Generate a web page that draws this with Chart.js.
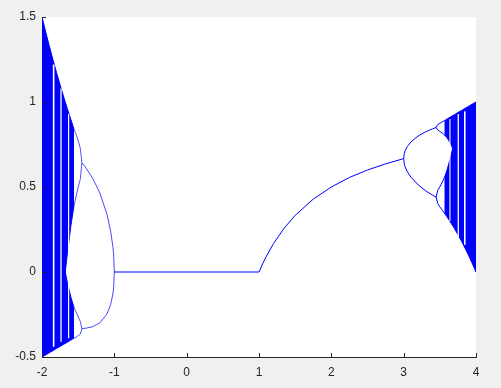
<!DOCTYPE html>
<html>
<head>
<meta charset="utf-8">
<script src="https://cdn.jsdelivr.net/npm/chart.js@4/dist/chart.umd.min.js"></script>
<style>
  body { margin: 0; background: #f0f0f0; }
  canvas { display: block; }
</style>
</head>
<body>
<canvas id="bif" width="501" height="388"></canvas>
<script>
// ---- values ---- //
const xTicks = [-2, -1, 0, 1, 2, 3, 4];
const yTicks = [-0.5, 0, 0.5, 1, 1.5];

// stable fixed point
const fixedR = [-1, 1, 1.05, 1.1, 1.2, 1.35, 1.5, 1.75, 2, 2.25, 2.5, 2.75, 3];
const fixedY = [0, 0, 0.048, 0.091, 0.167, 0.259, 0.333, 0.429, 0.5, 0.556, 0.6, 0.636, 0.667];

// period 2, negative side
const p2NegR = [-1, -1.01, -1.02, -1.05, -1.1, -1.2, -1.3, -1.4, -1.449];
const p2NegUp = [0, 0.104, 0.149, 0.238, 0.337, 0.465, 0.552, 0.617, 0.643];
const p2NegLow = [0, -0.094, -0.129, -0.19, -0.246, -0.299, -0.322, -0.331, -0.333];

// period 2, positive side
const p2PosR = [3, 3.01, 3.02, 3.05, 3.1, 3.2, 3.3, 3.4, 3.449];
const p2PosUp = [0.667, 0.699, 0.713, 0.738, 0.765, 0.8, 0.824, 0.842, 0.85];
const p2PosLow = [0.667, 0.633, 0.619, 0.59, 0.558, 0.513, 0.479, 0.452, 0.44];

// period 4 branches
const p4NegR = [-1.449, -1.47, -1.5, -1.54, -1.565];
const p4NegA = [0.643, 0.727, 0.774, 0.822, 0.85];
const p4NegB = [0.643, 0.547, 0.498, 0.423, 0.37];
const p4NegC = [-0.333, -0.292, -0.263, -0.225, -0.198];
const p4NegD = [-0.333, -0.365, -0.375, -0.386, -0.391];
const p4PosR = [3.449, 3.47, 3.5, 3.54, 3.565];
const p4PosA = [0.85, 0.867, 0.875, 0.885, 0.891];
const p4PosB = [0.85, 0.836, 0.827, 0.815, 0.806];
const p4PosC = [0.44, 0.48, 0.501, 0.534, 0.557];
const p4PosD = [0.44, 0.404, 0.383, 0.36, 0.346];

// chaotic bands, negative side
const chNegR = [-2, -1.95, -1.9, -1.85, -1.8, -1.75, -1.7, -1.678, -1.65, -1.6, -1.565];
const chNegUpTop = [1.5, 1.414, 1.331, 1.251, 1.175, 1.101, 1.03, 0.999, 0.961, 0.896, 0.85];
const chNegUpBot = [-0.1, -0.1, -0.1, -0.1, -0.1, -0.1, -0.1, 0, 0.107, 0.274, 0.37];
const chNegLowTop = [0.1, 0.1, 0.1, 0.1, 0.1, 0.1, 0.1, 0, -0.061, -0.149, -0.198];
const chNegLowBot = [-0.5, -0.488, -0.475, -0.463, -0.45, -0.438, -0.425, -0.42, -0.413, -0.4, -0.391];

// chaotic bands, positive side
const chPosR = [3.565, 3.6, 3.65, 3.678, 3.7, 3.75, 3.8, 3.85, 3.9, 3.95, 4];
const chPosUpTop = [0.891, 0.9, 0.913, 0.92, 0.925, 0.938, 0.95, 0.963, 0.975, 0.988, 1];
const chPosUpBot = [0.806, 0.789, 0.754, 0.728, 0.5, 0.5, 0.5, 0.5, 0.5, 0.5, 0.5];
const chPosLowTop = [0.557, 0.6, 0.678, 0.728, 0.6, 0.6, 0.6, 0.6, 0.6, 0.6, 0.6];
const chPosLowBot = [0.346, 0.324, 0.291, 0.272, 0.257, 0.22, 0.181, 0.139, 0.095, 0.049, 0];

// periodic windows (white stripes): position, low end, high end
const winR = [-1.839, -1.737, -1.632, 3.64, 3.755, 3.845];
const winLow = [-0.44, -0.41, -0.39, 0.3, 0.2, 0.16];
const winHigh = [1.22, 1.08, 0.93, 0.9, 0.93, 0.945];
const winWidth = [1.6, 1.3, 1.2, 1.1, 1.3, 1.6];

const BLUE = '#0000ff';
const pts = (xs, ys) => xs.map((x, i) => ({x: x, y: ys[i]}));

function curve(xs, ys, color) {
    return { data: pts(xs, ys), borderColor: color || BLUE, borderWidth: 1, fill: false, order: 1 };
}
// closed outline: along the top, then back along the bottom
function band(xs, top, bot) {
    const outline = pts(xs, top).concat(pts(xs, bot).reverse());
    return { data: outline, borderColor: BLUE, borderWidth: 1, backgroundColor: BLUE,
             fill: 'shape', order: 2 };
}

const datasets = [
    band(chNegR, chNegUpTop, chNegUpBot),
    band(chNegR, chNegLowTop, chNegLowBot),
    band(chPosR, chPosUpTop, chPosUpBot),
    band(chPosR, chPosLowTop, chPosLowBot),
    curve(fixedR, fixedY),
    curve(p2NegR, p2NegUp, 'rgba(40,40,255,0.85)'),
    curve(p2NegR, p2NegLow, 'rgba(40,40,255,0.85)'),
    curve(p2PosR, p2PosUp),
    curve(p2PosR, p2PosLow),
    curve(p4NegR, p4NegA, 'rgba(40,40,255,0.8)'),
    curve(p4NegR, p4NegB, 'rgba(40,40,255,0.8)'),
    curve(p4NegR, p4NegC, 'rgba(40,40,255,0.8)'),
    curve(p4NegR, p4NegD, 'rgba(40,40,255,0.8)'),
    curve(p4PosR, p4PosA),
    curve(p4PosR, p4PosB),
    curve(p4PosR, p4PosC),
    curve(p4PosR, p4PosD)
];
winR.forEach((r, i) => {
    datasets.push({
        data: [{x: r, y: winLow[i]}, {x: r, y: winHigh[i]}],
        borderColor: '#ffffff', borderWidth: winWidth[i], fill: false, order: 0
    });
});

// white plot area + inward tick marks
const axesLook = {
    id: 'axesLook',
    beforeDraw(chart) {
        const a = chart.chartArea, c = chart.ctx;
        c.save();
        c.fillStyle = '#ffffff';
        c.fillRect(a.left, a.top, a.right - a.left, a.bottom - a.top);
        c.restore();
    },
    afterDraw(chart) {
        const a = chart.chartArea, c = chart.ctx;
        const xs = chart.scales.x, ys = chart.scales.y;
        c.save();
        c.strokeStyle = '#262626';
        c.lineWidth = 1;
        c.beginPath();
        xTicks.forEach(v => {
            const px = Math.round(xs.getPixelForValue(v)) + 0.5;
            c.moveTo(px, a.bottom);
            c.lineTo(px, a.bottom - 4);
        });
        yTicks.forEach(v => {
            const py = Math.round(ys.getPixelForValue(v)) + 0.5;
            c.moveTo(a.left, py);
            c.lineTo(a.left + 4, py);
        });
        c.stroke();
        c.restore();
    }
};

const tickFont = { family: '"Liberation Sans", Arial, sans-serif', size: 12 };

new Chart(document.getElementById('bif'), {
    type: 'line',
    data: { datasets: datasets },
    options: {
        responsive: false,
        animation: false,
        layout: { padding: { top: 17, right: 25, left: 0, bottom: 0 } },
        plugins: { legend: { display: false }, tooltip: { enabled: false } },
        elements: { point: { radius: 0 }, line: { tension: 0 } },
        scales: {
            x: {
                type: 'linear', min: -2, max: 4,
                grid: { display: false, drawTicks: false },
                border: { display: true, color: '#262626', width: 1 },
                ticks: { color: '#262626', font: tickFont, padding: 8, maxRotation: 0,
                         callback: v => String(v) },
                afterBuildTicks(s) { s.ticks = xTicks.map(v => ({ value: v })); },
                afterFit(s) { s.height = 31; }
            },
            y: {
                type: 'linear', min: -0.5, max: 1.5,
                grid: { display: false, drawTicks: false },
                border: { display: true, color: '#262626', width: 1 },
                ticks: { color: '#262626', font: tickFont, padding: 6,
                         callback: v => String(v) },
                afterBuildTicks(s) { s.ticks = yTicks.map(v => ({ value: v })); },
                afterFit(s) { s.width = 42; }
            }
        }
    },
    plugins: [axesLook]
});
</script>
</body>
</html>
